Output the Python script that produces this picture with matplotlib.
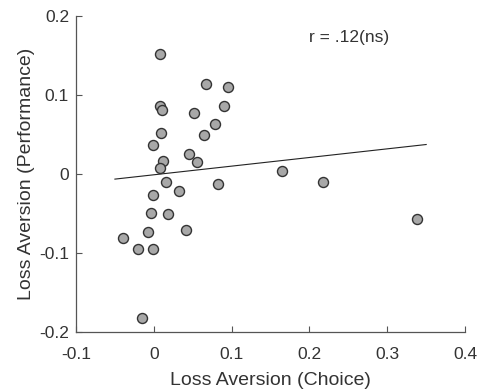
import numpy as np
import matplotlib
matplotlib.use("Agg")
import matplotlib.pyplot as plt

# Loss aversion estimates per participant
choice = [0.0075, 0.0671, 0.0958, 0.0080, 0.0105, 0.0521, 0.0902, 0.0787, 0.0088, 0.0645,
          -0.0015, 0.0457, 0.0555, 0.0114, 0.0080, 0.1648, 0.2170, 0.3379, 0.0157, 0.0830,
          0.0324, -0.0015, -0.0032, 0.0183, 0.0414, -0.0079, -0.0400, -0.0207, -0.0015, -0.0156]
performance = [0.1515, 0.1140, 0.1098, 0.0866, 0.0816, 0.0773, 0.0858, 0.0639, 0.0525, 0.0495,
               0.0369, 0.0259, 0.0150, 0.0162, 0.0070, 0.0040, -0.0107, -0.0571, -0.0107, -0.0133,
               -0.0217, -0.0263, -0.0495, -0.0508, -0.0714, -0.0736, -0.0811, -0.0946, -0.0946, -0.1827]

# regression line as drawn in the reference
line_x = [-0.05, 0.35]
slope, intercept = 0.1095, -0.0010

xticks = [-0.1, 0, 0.1, 0.2, 0.3, 0.4]
yticks = [-0.2, -0.1, 0, 0.1, 0.2]

plt.rcParams['font.family'] = ['Liberation Sans', 'DejaVu Sans']
txt = '#333333'

fig = plt.figure(figsize=(4.78, 3.91), dpi=100)
ax = fig.add_axes([0.159, 0.151, 0.814, 0.808])

ax.scatter(choice, performance, s=52, facecolor='#a8a8a8', edgecolor='#333333',
           linewidth=1.0, zorder=3)
lx = np.array(line_x)
ax.plot(lx, slope * lx + intercept, color='#222222', linewidth=0.8, zorder=2)

ax.text(0.2, 0.1726, 'r = .12(ns)', fontsize=12.5, ha='left', va='center', color=txt)

ax.set_xlim(-0.1, 0.4)
ax.set_ylim(-0.2, 0.2)
ax.set_xticks(xticks)
ax.set_xticklabels(['-0.1', '0', '0.1', '0.2', '0.3', '0.4'])
ax.set_yticks(yticks)
ax.set_yticklabels(['-0.2', '-0.1', '0', '0.1', '0.2'])
ax.tick_params(direction='in', length=4, width=0.8, colors='#555555', labelsize=12.5,
               labelcolor=txt)
ax.tick_params(axis='x', pad=11)
ax.tick_params(axis='y', pad=5)
for side in ['top', 'right']:
    ax.spines[side].set_visible(False)
for side in ['left', 'bottom']:
    ax.spines[side].set_color('#555555')
    ax.spines[side].set_linewidth(0.9)

ax.set_xlabel('Loss Aversion (Choice)', fontsize=14, color=txt, labelpad=7)
ax.set_ylabel('Loss Aversion (Performance)', fontsize=14, color=txt, labelpad=3)

fig.savefig('out.png', dpi=100)
